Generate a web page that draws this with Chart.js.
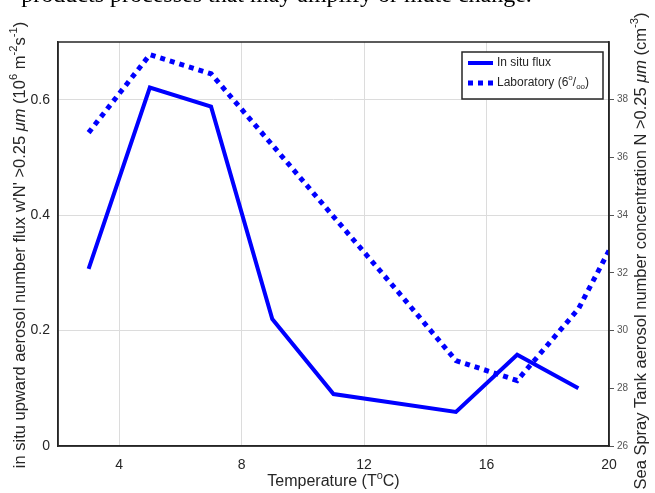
<!DOCTYPE html>
<html>
<head>
<meta charset="utf-8">
<script src="https://cdn.jsdelivr.net/npm/chart.js@4.4.1/dist/chart.umd.min.js"></script>
<style>
  html, body { margin: 0; padding: 0; background: #fff; }
</style>
</head>
<body>
<canvas id="myChart" width="655" height="493"></canvas>
<script>
// in situ flux (left axis)
const fluxTemps = [3, 5, 7, 9, 11, 15, 17, 19];
const fluxValues = [0.307, 0.621, 0.588, 0.22, 0.09, 0.059, 0.158, 0.10];
// laboratory concentration (right axis)
const labTemps = [3, 5, 7, 9, 11, 13, 15, 17, 19, 20];
const labValues = [36.86, 39.56, 38.9, 36.43, 33.95, 31.48, 28.96, 28.27, 30.75, 32.77];
// tick labels
const xTicks = [4, 8, 12, 16, 20];
const fluxTicks = [0, 0.2, 0.4, 0.6];
const labTicks = [26, 28, 30, 32, 34, 36, 38];

const BLUE = 'rgb(0,0,255)';
const AXIS = '#262626';
const SANS = '"Liberation Sans", Arial, sans-serif';

// draw a list of text runs (normal / italic / super), centered at (cx, cy)
function drawRuns(ctx, runs, cx, cy, size, rotate) {
  ctx.save();
  ctx.translate(cx, cy);
  if (rotate) ctx.rotate(-Math.PI / 2);
  let total = 0;
  runs.forEach(r => {
    const s = r.sup ? size * 0.68 : size;
    ctx.font = (r.italic ? 'italic ' : '') + s + 'px ' + SANS;
    r.w = ctx.measureText(r.t).width;
    r.s = s;
    total += r.w;
  });
  let x = -total / 2;
  ctx.textBaseline = 'middle';
  ctx.textAlign = 'left';
  ctx.fillStyle = AXIS;
  runs.forEach(r => {
    ctx.font = (r.italic ? 'italic ' : '') + r.s + 'px ' + SANS;
    const dy = r.sup ? -size * 0.38 : 0;
    ctx.fillText(r.t, x, dy);
    x += r.w;
  });
  ctx.restore();
}

const decorPlugin = {
  id: 'decor',
  afterDraw(chart) {
    const ctx = chart.ctx;
    const a = chart.chartArea;

    // plot box
    ctx.save();
    ctx.strokeStyle = AXIS;
    ctx.lineWidth = 1.5;
    ctx.strokeRect(a.left, a.top, a.right - a.left, a.bottom - a.top);
    ctx.restore();

    // clipped text line from the page above the figure
    ctx.save();
    ctx.font = '24px "Liberation Serif", "Times New Roman", serif';
    ctx.fillStyle = '#000';
    ctx.textBaseline = 'alphabetic';
    const pre = 'products ';
    const startX = 110 - ctx.measureText(pre).width;
    ctx.fillText(pre + 'processes that may amplify or mute change.', startX, 2);
    ctx.restore();

    // axis titles
    drawRuns(ctx, [
      { t: "in situ upward aerosol number flux w'N' >0.25 " },
      { t: '\u03bcm', italic: true },
      { t: ' (10' }, { t: '6', sup: true }, { t: ' m' }, { t: '-2', sup: true },
      { t: 's' }, { t: '-1', sup: true }, { t: ')' }
    ], 20, 245, 16.5, true);

    drawRuns(ctx, [
      { t: 'Sea Spray Tank aerosol number concentration N >0.25 ' },
      { t: '\u03bcm', italic: true },
      { t: ' (cm' }, { t: '-3', sup: true }, { t: ')' }
    ], 641, 251, 16.5, true);

    drawRuns(ctx, [
      { t: 'Temperature (T' }, { t: 'o', sup: true }, { t: 'C)' }
    ], (a.left + a.right) / 2, 482, 16, false);

    // legend
    const lx = 462, ly = 52, lw = 141, lh = 47;
    ctx.save();
    ctx.fillStyle = '#fff';
    ctx.fillRect(lx, ly, lw, lh);
    ctx.strokeStyle = AXIS;
    ctx.lineWidth = 1.5;
    ctx.strokeRect(lx, ly, lw, lh);

    ctx.strokeStyle = BLUE;
    ctx.lineCap = 'butt';
    ctx.lineWidth = 4;
    ctx.beginPath();
    ctx.moveTo(lx + 6, ly + 11);
    ctx.lineTo(lx + 31, ly + 11);
    ctx.stroke();

    ctx.lineWidth = 5;
    ctx.setLineDash([5, 5]);
    ctx.beginPath();
    ctx.moveTo(lx + 6, ly + 31);
    ctx.lineTo(lx + 31, ly + 31);
    ctx.stroke();
    ctx.setLineDash([]);
    ctx.restore();

    ctx.save();
    ctx.fillStyle = AXIS;
    ctx.textBaseline = 'middle';
    ctx.font = '12px ' + SANS;
    ctx.fillText('In situ flux', lx + 35, ly + 11);
    let tx = lx + 35;
    const ty = ly + 31;
    ctx.fillText('Laboratory (6', tx, ty);
    tx += ctx.measureText('Laboratory (6').width;
    ctx.font = '8px ' + SANS;
    ctx.fillText('o', tx, ty - 5);
    tx += ctx.measureText('o').width;
    ctx.font = '12px ' + SANS;
    ctx.fillText('/', tx, ty);
    tx += ctx.measureText('/').width;
    ctx.font = '8px ' + SANS;
    ctx.fillText('oo', tx, ty + 4);
    tx += ctx.measureText('oo').width;
    ctx.font = '12px ' + SANS;
    ctx.fillText(')', tx, ty);
    ctx.restore();
  }
};

const ctx = document.getElementById('myChart').getContext('2d');
let myChart = new Chart(ctx, {
  type: 'line',
  data: {
    datasets: [{
      label: 'In situ flux',
      data: fluxTemps.map((t, i) => ({ x: t, y: fluxValues[i] })),
      yAxisID: 'y',
      borderColor: BLUE,
      borderWidth: 4,
      pointRadius: 0,
      tension: 0
    }, {
      label: 'Laboratory (6o/oo)',
      data: labTemps.map((t, i) => ({ x: t, y: labValues[i] })),
      yAxisID: 'y2',
      borderColor: BLUE,
      borderWidth: 5,
      borderDash: [5, 5],
      borderCapStyle: 'butt',
      pointRadius: 0,
      tension: 0
    }]
  },
  options: {
    responsive: false,
    animation: false,
    devicePixelRatio: 1,
    layout: { padding: { top: 42, left: 0, right: 0, bottom: 0 } },
    plugins: { legend: { display: false }, tooltip: { enabled: false } },
    scales: {
      x: {
        type: 'linear',
        min: 2,
        max: 20,
        afterBuildTicks: s => { s.ticks = xTicks.map(v => ({ value: v })); },
        afterFit: s => { s.height = 47; },
        grid: { color: '#dcdcdc', drawTicks: false },
        border: { color: AXIS, width: 1.5 },
        ticks: { color: AXIS, padding: 11, font: { family: SANS, size: 14 }, maxRotation: 0 }
      },
      y: {
        position: 'left',
        min: 0,
        max: 0.7,
        afterBuildTicks: s => { s.ticks = fluxTicks.map(v => ({ value: v })); },
        afterFit: s => { s.width = 58; },
        grid: { color: '#dcdcdc', drawTicks: false },
        border: { color: AXIS, width: 1.5 },
        ticks: { color: AXIS, padding: 8, font: { family: SANS, size: 14 } }
      },
      y2: {
        position: 'right',
        min: 26,
        max: 40,
        afterBuildTicks: s => { s.ticks = labTicks.map(v => ({ value: v })); },
        afterFit: s => { s.width = 46; },
        grid: { drawOnChartArea: false, color: '#555', tickLength: 5 },
        border: { color: AXIS, width: 1.5 },
        ticks: { color: '#555', padding: 3, font: { family: SANS, size: 10 } }
      }
    }
  },
  plugins: [decorPlugin]
});
</script>
</body>
</html>
